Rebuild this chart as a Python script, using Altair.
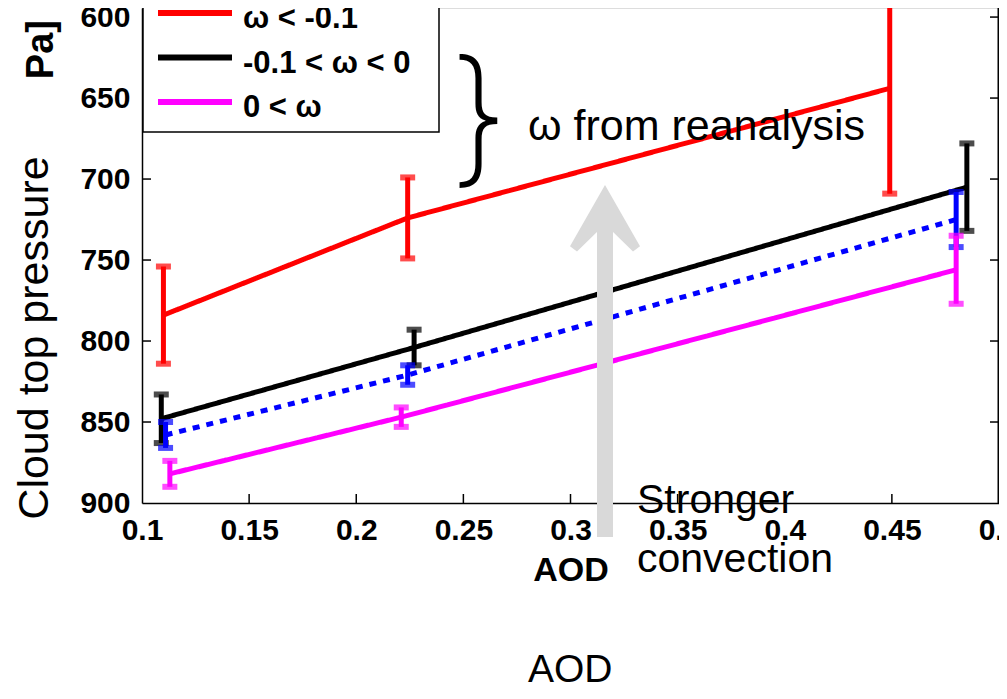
import altair as alt
import pandas as pd

# ---------------- data ----------------
series_names = ["ω < -0.1", "-0.1 < ω < 0", "all", "0 < ω"]
series_colors = ["#ff0000", "#000000", "#0000ff", "#ff00ff"]
series_dash = [[1, 0], [1, 0], [7, 7], [1, 0]]

aod_red = [0.110, 0.224, 0.449]
ctp_red = [784, 724, 644]
err_red = [30, 25, 65]

aod_black = [0.109, 0.227, 0.485]
ctp_black = [848, 804, 705]
err_black = [15, 11, 27]

aod_blue = [0.111, 0.224, 0.480]
ctp_blue = [858, 821, 725]
err_blue = [8, 6, 17]

aod_mag = [0.113, 0.221, 0.480]
ctp_mag = [882, 847, 756]
err_mag = [8, 6, 21]

x_ticks = [0.1, 0.15, 0.2, 0.25, 0.3, 0.35, 0.4, 0.45, 0.5]
y_ticks = [600, 650, 700, 750, 800, 850, 900]

legend_labels = ["ω < -0.1", "-0.1 < ω < 0", "0 < ω"]
legend_colors = ["#ff0000", "#000000", "#ff00ff"]

# ---------------- layout ----------------
W, H = 857, 495
X_DOMAIN = [0.1, 0.5]
Y_DOMAIN = [594.4, 900]
TICKFONT = "Liberation Sans"

xscale = alt.Scale(domain=X_DOMAIN, nice=False, zero=False)
yscale = alt.Scale(domain=Y_DOMAIN, nice=False, zero=False, reverse=True)

x_axis = alt.Axis(values=x_ticks, format=".2~f", title="AOD", grid=False,
                  ticks=False, tickSize=0, labelPadding=12, labelFlush=False,
                  labelOverlap=False, labelBound=False, labelFont=TICKFONT,
                  labelFontSize=30, labelFontWeight="bold", labelColor="black",
                  titleFont=TICKFONT, titleFontSize=34, titleFontWeight="bold",
                  titleColor="black", titlePadding=8,
                  domainColor="black", domainWidth=1.5)
y_axis = alt.Axis(values=y_ticks, format="d", title=None, grid=False,
                  ticks=False, tickSize=0, labelPadding=12, labelFlush=False,
                  labelOverlap=False, labelBound=False, labelFont=TICKFONT,
                  labelFontSize=30, labelFontWeight="bold", labelColor="black",
                  domainColor="black", domainWidth=1.5)


def X(field):
    return alt.X(field, type="quantitative", scale=xscale, axis=x_axis)


def Y(field):
    return alt.Y(field, type="quantitative", scale=yscale, axis=y_axis)


all_series = [
    (aod_red, ctp_red, err_red),
    (aod_black, ctp_black, err_black),
    (aod_blue, ctp_blue, err_blue),
    (aod_mag, ctp_mag, err_mag),
]

layers = []
for name, color, dash, (xs, ys, es) in zip(series_names, series_colors,
                                            series_dash, all_series):
    df = pd.DataFrame({
        "aod": xs,
        "ctp": ys,
        "lo": [v - e for v, e in zip(ys, es)],
        "hi": [v + e for v, e in zip(ys, es)],
        "series": name,
    })
    base = alt.Chart(df)
    line = base.mark_line(color=color, strokeWidth=5, strokeDash=dash,
                          clip=True).encode(x=X("aod"), y=Y("ctp"))
    bar = base.mark_rule(color=color, strokeWidth=5, clip=True).encode(
        x=X("aod"), y=Y("lo"), y2="hi:Q")
    cap_lo = base.mark_tick(color=color, orient="horizontal", size=15,
                            thickness=6, clip=True).encode(x=X("aod"), y=Y("lo"))
    cap_hi = base.mark_tick(color=color, orient="horizontal", size=15,
                            thickness=6, clip=True).encode(x=X("aod"), y=Y("hi"))
    layers += [line, bar, cap_lo, cap_hi]

# inward ticks (MATLAB style box)
xt = pd.DataFrame({"v": x_ticks[1:-1]})
yt = pd.DataFrame({"v": y_ticks[:-1]})
TL = 9
xtick_layer = alt.Chart(xt).mark_rule(color="black", strokeWidth=1.5).encode(
    x=X("v"), y=alt.value(H - TL), y2=alt.value(H))
ytick_left = alt.Chart(yt).mark_rule(color="black", strokeWidth=1.5).encode(
    y=Y("v"), x=alt.value(0), x2=alt.value(TL))
ytick_right = alt.Chart(yt).mark_rule(color="black", strokeWidth=1.5).encode(
    y=Y("v"), x=alt.value(W - TL), x2=alt.value(W))
one = pd.DataFrame({"a": [0]})
right_frame = alt.Chart(one).mark_rule(color="black", strokeWidth=1.5).encode(
    x=alt.value(W - 0.75), y=alt.value(0), y2=alt.value(H))

# legend box (drawn by hand)
legend_box = alt.Chart(one).mark_rect(fill="white", stroke="black",
                                      strokeWidth=1.5).encode(
    x=alt.value(1), x2=alt.value(297), y=alt.value(-12), y2=alt.value(124))
legend_layers = [legend_box]
for i, (lab, col) in enumerate(zip(legend_labels, legend_colors)):
    ly = 5 + i * 44.5
    legend_layers.append(alt.Chart(one).mark_rule(color=col, strokeWidth=6).encode(
        x=alt.value(16), x2=alt.value(90), y=alt.value(ly)))
    legend_layers.append(alt.Chart(one).mark_text(
        text=lab, font=TICKFONT, fontSize=31, fontWeight="bold", color="black",
        align="left", baseline="middle").encode(
        x=alt.value(101), y=alt.value(ly + 6)))

# annotations
ANNFONT = "Liberation Sans"
ytitle = alt.Chart(one).mark_text(
    text="Cloud top pressure", font=ANNFONT, fontSize=43, angle=270,
    align="center", baseline="middle", color="black").encode(
    x=alt.value(-107), y=alt.value(330))
hpa = alt.Chart(one).mark_text(
    text="Pa]", font=TICKFONT, fontSize=38, fontWeight="bold", angle=270,
    align="right", baseline="alphabetic", color="black").encode(
    x=alt.value(-89), y=alt.value(12))
brace = alt.Chart(one).mark_text(
    text="}", font="Inter", fontSize=148, fontWeight=200, color="black",
    align="center", baseline="middle").encode(
    x=alt.value(337), y=alt.value(116))
reanal = alt.Chart(one).mark_text(
    text="ω from reanalysis", font=ANNFONT, fontSize=43, color="black",
    align="left", baseline="alphabetic").encode(
    x=alt.value(386), y=alt.value(132))
shaft = alt.Chart(one).mark_rule(color="#d9d9d9", strokeWidth=16,
                                 strokeCap="butt").encode(
    x=alt.value(463), y=alt.value(224), y2=alt.value(529))
head = alt.Chart(one).mark_point(
    shape="M0,-1L1,0.75L0.8,0.9L0.23,0.34L-0.23,0.34L-0.8,0.9L-1,0.75Z",
    size=4900, filled=True, color="#d9d9d9", opacity=1).encode(
    x=alt.value(463), y=alt.value(212))
stronger = alt.Chart(one).mark_text(
    text="Stronger\nconvection", lineBreak="\n", lineHeight=59, font=ANNFONT,
    fontSize=41, color="black", align="left", baseline="alphabetic").encode(
    x=alt.value(495), y=alt.value(505))
aod_big = alt.Chart(one).mark_text(
    text="AOD", font=ANNFONT, fontSize=39, color="black", align="left",
    baseline="alphabetic").encode(x=alt.value(386), y=alt.value(674))

chart = alt.layer(
    *layers, xtick_layer, ytick_left, ytick_right, right_frame,
    *legend_layers, ytitle, hpa, brace, reanal, shaft, head, stronger, aod_big
).properties(
    width=W, height=H,
    autosize=alt.AutoSizeParams(type="none"),
    padding={"left": 134, "top": 0, "right": 0, "bottom": 183},
).configure_view(stroke=None).configure(background="white")

chart.save("out.html", embed_options={"renderer": "svg", "actions": False})
